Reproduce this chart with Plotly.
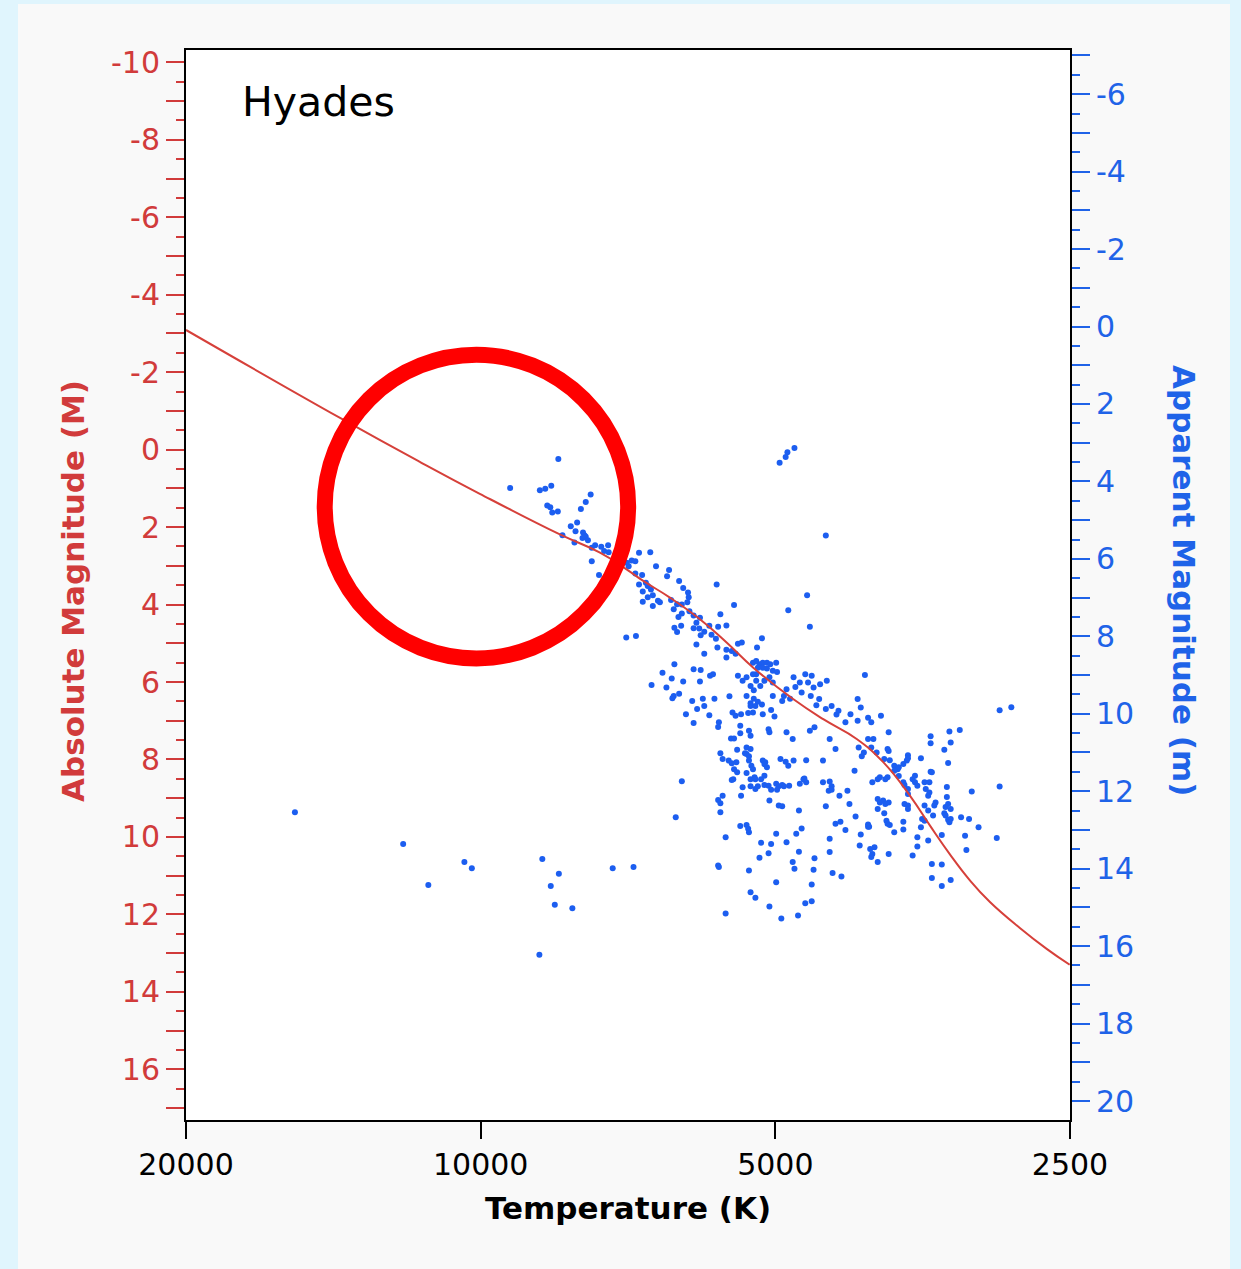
import math
import plotly.graph_objects as go

# ---------------- data ----------------
# Hyades stars: effective temperature (K) and absolute magnitude M
temp_k = [
    8330, 9330, 8700, 8590, 8470, 8550, 8490, 8450, 8340, 7720, 7810, 7900, 8090, 7970, 8000,
    8250, 8020, 7870, 7810, 7770, 7860, 7830, 7700, 7640, 7530, 7410, 7480, 7400, 7700, 7570,
    7090, 7010, 6950, 6890, 6710, 7060,
    6950, 6840, 6890, 6780, 6750, 6700, 6830, 6670, 6750, 6590, 6830, 6670, 6560,
    6620, 6450, 6420, 6270, 6210, 6140, 6130, 6150, 6230,
    6390, 6350, 6300, 6230, 6280, 6240, 6300, 6340,
    6120, 6060, 6020, 5970, 6060, 5980, 5910, 5960, 5840, 5720, 5690, 5740, 5810, 5750, 6020, 5910,
    5610, 5510, 5460, 5410, 5160, 5220, 5730, 5610, 5490, 5610, 5540,
    4640, 4850, 4610, 4440, 4780, 4860, 4880, 4950,
    5270, 5230, 5190, 5150, 5100, 5210, 5150, 5100, 5060, 4990, 5030, 4980, 5230, 5070, 5130, 5030,
    5460, 5400, 5350, 5300, 5270, 5230, 5180, 5260, 5350, 5260, 5210, 5300, 5160, 5030, 4900, 4920,
    4830, 4870, 4790, 4770, 4720, 4700, 4660, 4630, 4590, 4570, 4600, 4510, 4540, 4440, 4430, 4500,
    4380, 4330, 4310, 4240, 4190, 4120, 4090, 4050, 4020, 3990, 4120,
    6520, 6690, 6380, 6340, 6460, 6210, 6060, 5960, 5830, 5790, 5970, 6350, 6370, 6270, 6080, 5930,
    5770, 6170, 6060, 6010, 5910, 5840, 5710, 5720, 5570, 5530, 5490, 5420, 5300, 5240, 5270, 5330,
    5150, 5050, 5010, 5430,
    7100, 6940,
    6230, 6320, 5720, 5690, 5660, 5690, 5620, 5720, 5710, 5620, 5430, 5350, 5330, 5320, 5320, 5300,
    5240, 5190, 5170, 5050, 5080, 4990, 4990, 5070, 4930, 4870, 4800, 4780, 4730, 4740, 4760, 4700,
    4660, 4590, 4590, 4570, 4560, 4400, 4400, 4370, 4280, 4340, 4290, 4240, 4100, 4090, 4020, 4000,
    3980, 3990, 3960, 3930, 3830, 3780, 3700, 3700, 3620, 3580, 3580, 3550, 3490, 3460, 3460, 3380,
    3380, 3310, 3380, 3200, 3190, 2970, 2950, 2950, 2870,
    5550, 5510, 5470, 5320, 5300, 5430, 5690, 5660, 5580, 5540, 5480, 5510, 5470, 5520, 5540, 5400,
    5420, 5350, 5300, 5370, 5350, 5320, 5320, 5290, 5270, 5350, 5300, 5300, 5250, 5240, 5170, 5130,
    5100, 5080, 5070, 5150, 5120, 5130, 5240, 5210, 5130, 5080, 5050, 5070, 4990, 4960, 4920, 4980,
    4900, 4960, 4920, 4870, 4800, 4940, 4880, 4850, 4840, 4720, 4650, 4790, 4730, 4680, 4670, 4650,
    4610, 4560, 4470, 4470, 4400, 4380, 4410, 4380, 4440, 4340, 4400, 4300, 4220, 4200, 4150, 4140,
    4110, 4080, 4060, 4020, 3970, 3990, 3940, 3980, 3930, 3930, 3910, 3880, 3830, 3930, 3870, 3860,
    3850, 3840, 3820, 4020, 4010, 3870, 3820, 3830, 3840, 3910, 3840, 3860, 3780, 3750, 3740, 3700,
    3670, 3660, 3660, 3780, 3740, 3700, 3690, 3660, 3660, 3690, 3660, 3660, 3620, 3600, 3600, 3580,
    3550, 3520, 3480, 3470, 3460, 3470, 3470, 3510, 3480, 3490, 3430, 3520, 3490, 3440, 3450, 3540,
    3520, 3360, 3320, 3240, 3310, 3330,
    3340, 3340, 3330, 3350, 3360, 3310, 3350, 3310, 3330, 3320, 3230, 3170, 3100, 3150,
    3900, 3830,
    15480, 12000, 11310, 10390, 10210, 8650, 8320, 8480, 8400, 8060, 8710, 7330, 6980,
]
abs_mag = [
    0.24, 0.99, 1.05, 1.01, 0.93, 1.44, 1.49, 1.62, 1.60, 1.16, 1.35, 1.53, 1.98, 1.88, 2.11,
    2.21, 2.40, 2.28, 2.25, 2.34, 2.14, 2.22, 2.53, 2.47, 2.51, 2.47, 2.62, 2.65, 2.88, 3.24,
    2.92, 2.86, 2.88, 2.66, 2.65, 3.01,
    3.20, 3.24, 3.48, 3.44, 3.52, 3.61, 3.66, 3.76, 3.81, 3.90, 3.93, 4.04, 3.94,
    3.01, 3.27, 3.11, 3.39, 3.57, 3.69, 3.81, 3.94, 4.00,
    3.88, 4.12, 3.99, 4.23, 4.32, 4.55, 4.71, 4.60,
    4.17, 4.28, 4.47, 4.34, 4.61, 4.62, 4.70, 4.79, 4.55, 4.57, 4.25, 3.48, 4.78, 4.88, 5.03, 5.27,
    4.54, 4.01, 5.01, 4.98, 4.87, 5.11, 5.11, 5.37, 5.27, 5.17, 5.20,
    3.76, 4.15, 4.57, 2.22, -0.04, 0.07, 0.19, 0.34,
    5.50, 5.46, 5.54, 5.50, 5.50, 5.63, 5.63, 5.65, 5.54, 5.50, 5.71, 5.74, 5.80, 5.88, 5.97, 6.01,
    5.84, 5.97, 5.88, 6.10, 5.80, 5.97, 6.10, 6.21, 6.36, 6.43, 6.51, 6.62, 6.58, 6.36, 6.36, 6.49,
    6.43, 6.19, 5.88, 6.13, 6.01, 6.27, 5.80, 6.01, 5.84, 6.14, 6.36, 6.44, 6.60, 6.70, 5.97, 6.06,
    6.62, 6.84, 6.74, 7.04, 6.83, 6.44, 6.66, 5.82, 6.92, 7.04, 7.00,
    5.76, 6.08, 5.91, 5.54, 6.14, 5.99, 5.67, 5.69, 5.84, 5.80, 5.99, 6.36, 6.42, 6.30, 6.49, 6.43,
    6.43, 6.83, 7.06, 6.70, 6.62, 6.86, 7.04, 7.16, 6.37, 6.79, 6.87, 6.83, 6.55, 6.62, 6.79, 6.80,
    6.83, 6.72, 6.89, 7.13,
    4.85, 4.81,
    8.56, 9.49, 9.05, 9.13, 8.94, 9.36, 10.01, 10.74, 10.78, 11.98, 9.72, 9.69, 9.79, 9.88, 10.87, 11.43,
    11.57, 10.54, 10.15, 10.18, 10.42, 9.92, 11.17, 11.80, 12.11, 10.14, 10.65, 10.82, 10.38, 12.03, 9.92, 9.78,
    11.71, 11.66, 11.23, 10.85, 10.55, 10.05, 10.39, 10.93, 11.02, 9.66, 9.61, 9.82, 10.22, 9.94, 9.74, 10.31,
    10.44, 10.52, 10.27, 10.65, 10.44, 9.88, 9.81, 9.61, 10.48, 10.01, 10.25, 9.75, 10.09, 10.70, 11.06, 10.71,
    11.27, 11.11, 9.95, 9.97, 10.34, 10.03, 8.70, 6.73, 6.65,
    7.46, 7.46, 7.75, 7.26, 7.39, 7.32, 7.84, 7.99, 8.03, 8.10, 8.07, 8.25, 8.33, 8.51, 8.53, 8.72,
    8.94, 7.69, 7.73, 7.84, 7.86, 7.92, 8.03, 8.16, 8.25, 8.35, 8.51, 8.69, 8.46, 8.51, 8.51, 8.42,
    8.20, 7.22, 7.30, 8.03, 8.07, 8.12, 8.76, 8.69, 8.66, 8.68, 8.78, 9.06, 8.63, 8.69, 8.66, 8.78,
    8.69, 9.19, 9.21, 7.30, 7.47, 7.99, 8.06, 8.16, 8.68, 8.63, 8.59, 8.03, 9.32, 8.51, 8.49, 8.02,
    7.26, 7.17, 8.03, 8.59, 8.57, 8.69, 8.81, 8.78, 9.21, 7.73, 7.47, 8.94, 8.81, 9.15, 8.29, 9.47,
    7.69, 7.92, 7.82, 7.47, 7.47, 7.69, 7.82, 8.59, 8.51, 9.02, 9.11, 9.06, 9.11, 9.28, 9.39, 9.15,
    9.58, 9.66, 9.69, 9.68, 9.74, 7.99, 8.02, 7.78, 7.73, 8.46, 8.46, 8.51, 8.16, 8.25, 8.20, 8.12,
    8.03, 7.89, 7.97, 8.29, 8.43, 8.59, 8.66, 8.76, 8.89, 9.15, 9.19, 9.28, 8.51, 8.42, 8.59, 8.68,
    7.97, 8.59, 8.59, 8.32, 8.33, 7.40, 7.58, 8.76, 8.85, 8.94, 9.11, 9.19, 9.32, 9.19, 9.45, 9.54,
    9.58, 7.75, 7.28, 7.24, 7.56, 8.09,
    8.71, 8.97, 9.15, 9.23, 9.39, 9.28, 9.45, 9.54, 9.56, 9.62, 9.49, 9.54, 9.75, 8.83,
    6.87, 7.30,
    9.36, 10.18, 11.24, 10.65, 10.81, 10.57, 10.95, 11.27, 11.75, 11.84, 13.04, 10.81, 10.78,
]

# Zero-age main sequence (red curve): temperature (K) and absolute magnitude
zams_temp_k = [20000, 13920, 11530, 10020, 8300, 7553, 7095, 6822, 6407, 5970, 5607, 5266,
               4795, 4467, 4129, 3879, 3642, 3475, 3316, 3164, 3018, 2813, 2641, 2502]
zams_abs_mag = [-3.09, -0.82, 0.32, 1.14, 2.19, 2.66, 3.09, 3.39, 3.82, 4.38, 4.98, 5.63,
                6.44, 6.96, 7.47, 8.07, 8.94, 9.71, 10.45, 11.12, 11.68, 12.35, 12.89, 13.30]

DIST_MODULUS = 3.18          # apparent minus absolute magnitude for the Hyades
cluster_name = "Hyades"

x_tick_vals = [20000, 10000, 5000, 2500]
x_tick_text = ["20000", "10000", "5000", "2500"]
temp_limits = [20000, 2500]
abs_limits = [17.31, -10.32]

# highlight ring: centre (temperature, magnitude) and radii
ring_temp_k = 10100
ring_abs_mag = 1.47
ring_radius_dex = 0.155
ring_radius_mag = 3.92

# ---------------- styling ----------------
RED = "#d13b3b"
LINE_RED = "#d6403a"
BLUE = "#1f63e8"
DOT = "#1c5ef0"
FONT = "DejaVu Sans"
W, H = 1241, 1269
L, R, T, B = 186, 171, 50, 149

app_limits = [abs_limits[0] + DIST_MODULUS, abs_limits[1] + DIST_MODULUS]
LX0, LX1 = math.log10(temp_limits[0]), math.log10(temp_limits[1])


def int_ticks(lo, hi):
    vals = list(range(math.ceil(min(lo, hi)), math.floor(max(lo, hi)) + 1))
    text = [str(v) if v % 2 == 0 else "" for v in vals]
    return vals, text


def half_ticks(lo, hi):
    a, b = min(lo, hi), max(lo, hi)
    out = []
    v = math.ceil(a - 0.5) + 0.5
    while v <= b:
        out.append(v)
        v += 1
    return out


y_vals, y_text = int_ticks(*abs_limits)
y2_vals, y2_text = int_ticks(*app_limits)

fig = go.Figure()
fig.add_trace(go.Scatter(
    x=temp_k, y=abs_mag, mode="markers",
    marker=dict(size=6, color=DOT, line=dict(width=0)),
    showlegend=False, hoverinfo="x+y"))
fig.add_trace(go.Scatter(
    x=zams_temp_k, y=zams_abs_mag, mode="lines",
    line=dict(color=LINE_RED, width=2, shape="spline", smoothing=1.3),
    showlegend=False))
# carries the apparent-magnitude axis
fig.add_trace(go.Scatter(
    x=zams_temp_k, y=[m + DIST_MODULUS for m in zams_abs_mag], yaxis="y2",
    mode="lines", line=dict(width=0, color="rgba(0,0,0,0)"),
    showlegend=False, hoverinfo="skip"))

fig.update_layout(
    width=W, height=H, autosize=False,
    margin=dict(l=L, r=R, t=T, b=B, pad=0),
    paper_bgcolor="#f9f9f9", plot_bgcolor="white",
    font=dict(family=FONT, size=30, color="black"),
    xaxis=dict(
        type="log", range=[LX0, LX1],
        tickmode="array", tickvals=x_tick_vals, ticktext=x_tick_text,
        ticks="outside", ticklen=17, tickwidth=2, tickcolor="black",
        tickfont=dict(family=FONT, size=30, color="black"),
        showline=True, linecolor="black", linewidth=2, mirror=True,
        showgrid=False, zeroline=False),
    yaxis=dict(
        range=abs_limits, tickmode="array", tickvals=y_vals, ticktext=y_text,
        ticks="outside", ticklen=18, tickwidth=2, tickcolor=RED,
        tickfont=dict(family=FONT, size=30, color=RED),
        minor=dict(tickmode="array", tickvals=half_ticks(*abs_limits), ticks="outside",
                   ticklen=8, tickwidth=2, tickcolor=RED, showgrid=False),
        showline=True, linecolor="black", linewidth=2,
        showgrid=False, zeroline=False),
    yaxis2=dict(
        overlaying="y", side="right", anchor="x",
        range=app_limits, tickmode="array", tickvals=y2_vals, ticktext=y2_text,
        ticks="outside", ticklen=18, tickwidth=2, tickcolor=BLUE,
        tickfont=dict(family=FONT, size=30, color=BLUE),
        minor=dict(tickmode="array", tickvals=half_ticks(*app_limits), ticks="outside",
                   ticklen=8, tickwidth=2, tickcolor=BLUE, showgrid=False),
        showline=True, linecolor="black", linewidth=2,
        showgrid=False, zeroline=False),
)

pw, ph = W - L - R, H - T - B


def px_x(px):
    return (px - L) / pw


def px_y(py):
    return (H - B - py) / ph


def temp_to_paper(logt):
    return (LX0 - logt) / (LX0 - LX1)


def mag_to_paper(m):
    return (abs_limits[0] - m) / (abs_limits[0] - abs_limits[1])


fig.add_annotation(text="Absolute Magnitude (M)", xref="paper", yref="paper",
                   x=px_x(73), y=px_y(591), textangle=-90, showarrow=False,
                   xanchor="center", yanchor="middle",
                   font=dict(family=FONT, size=31, color=RED, weight="bold"))
fig.add_annotation(text="Apparent Magnitude (m)", xref="paper", yref="paper",
                   x=px_x(1184), y=px_y(580), textangle=90, showarrow=False,
                   xanchor="center", yanchor="middle",
                   font=dict(family=FONT, size=31, color=BLUE, weight="bold"))
fig.add_annotation(text="Temperature (K)", xref="paper", yref="paper",
                   x=0.5, y=px_y(1208), showarrow=False,
                   xanchor="center", yanchor="middle",
                   font=dict(family=FONT, size=31, color="black", weight="bold"))
fig.add_annotation(text=cluster_name, xref="paper", yref="paper",
                   x=px_x(240), y=px_y(102), showarrow=False,
                   xanchor="left", yanchor="middle",
                   font=dict(family=FONT, size=41, color="black"))

# highlight ring (positioned through the axis ranges)
lx = math.log10(ring_temp_k)
fig.add_shape(type="circle", xref="paper", yref="paper",
              x0=temp_to_paper(lx - ring_radius_dex), x1=temp_to_paper(lx + ring_radius_dex),
              y0=mag_to_paper(ring_abs_mag - ring_radius_mag),
              y1=mag_to_paper(ring_abs_mag + ring_radius_mag),
              line=dict(color="#ff0000", width=16), fillcolor="rgba(0,0,0,0)", layer="above")

# light-blue page border
BORDER = "#e0f5fd"
for x0, x1, y0, y1 in [(0, 18, 0, H), (1230, W, 0, H), (0, W, 0, 4)]:
    fig.add_shape(type="rect", xref="paper", yref="paper",
                  x0=px_x(x0), x1=px_x(x1), y0=px_y(y1), y1=px_y(y0),
                  line=dict(width=0), fillcolor=BORDER, layer="above")

fig.write_html("out.html")
